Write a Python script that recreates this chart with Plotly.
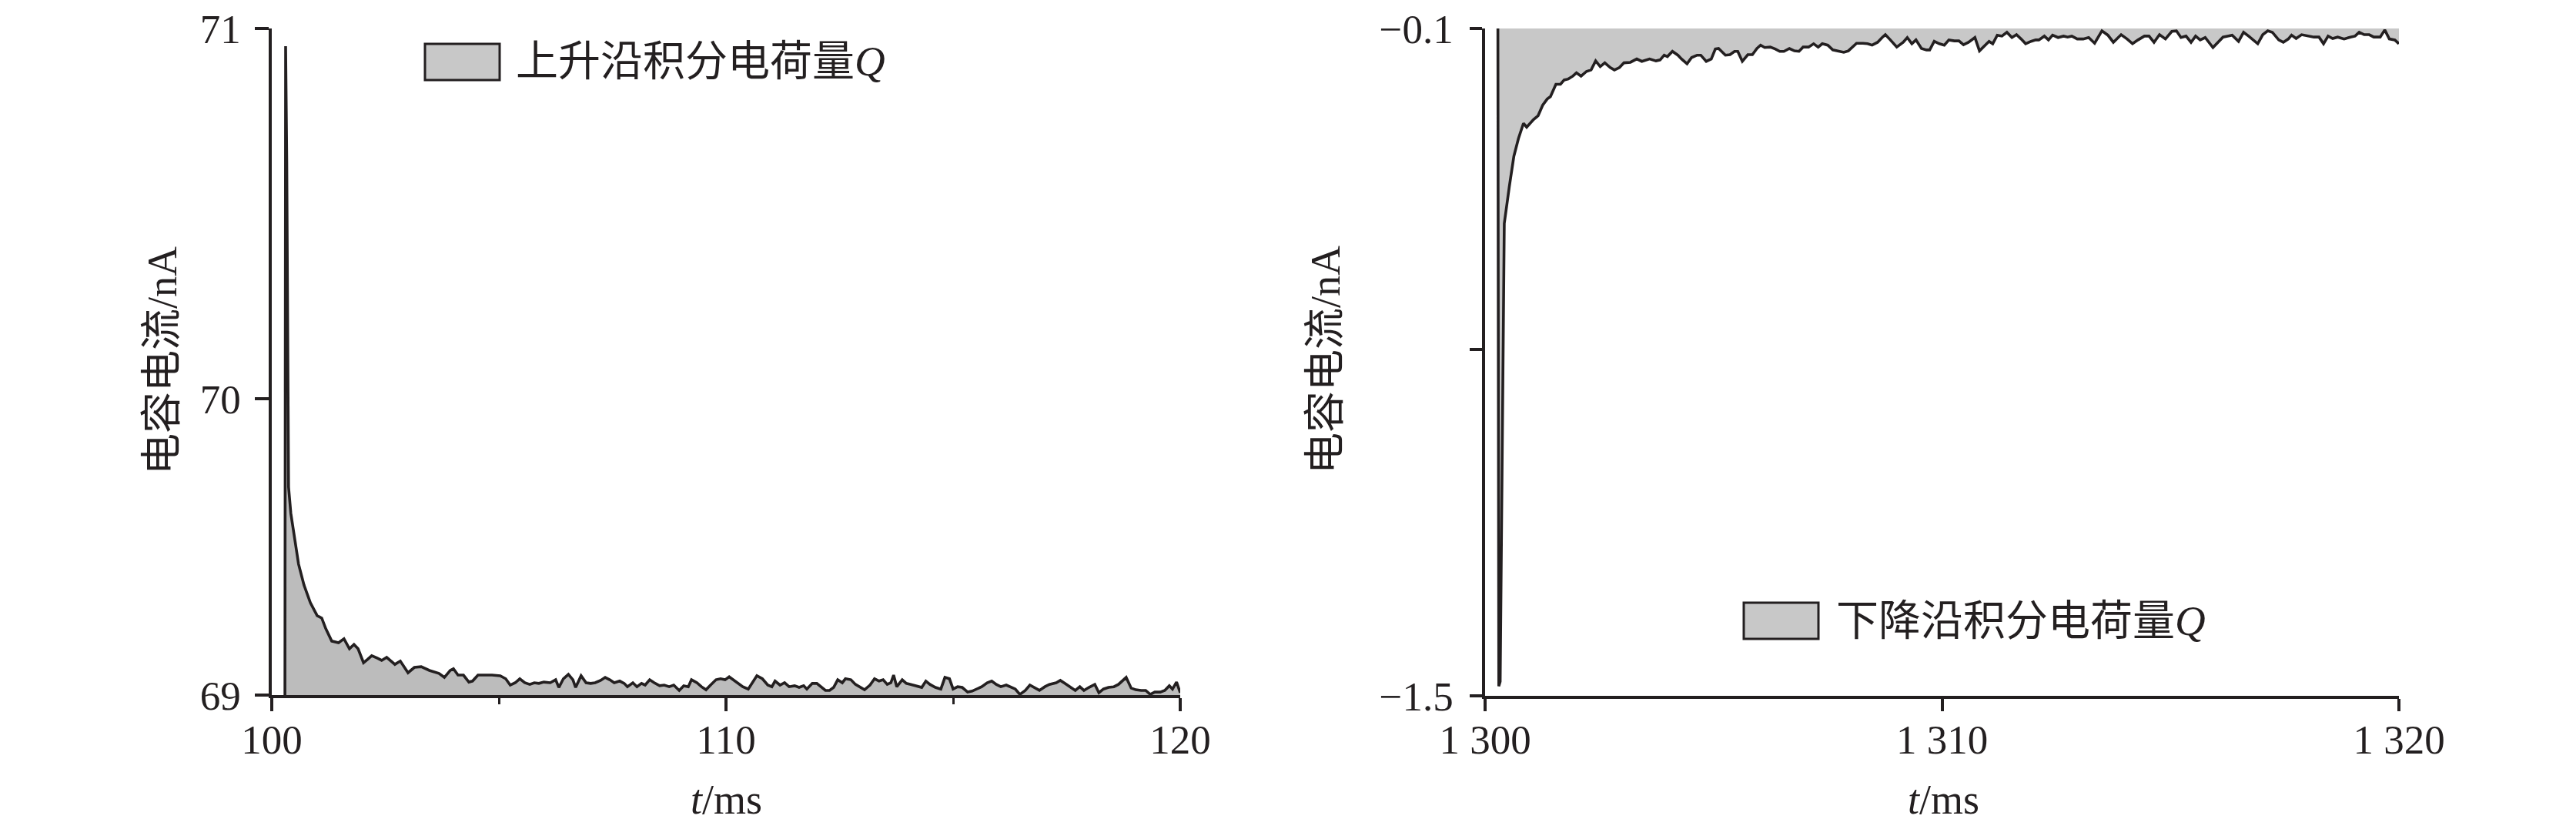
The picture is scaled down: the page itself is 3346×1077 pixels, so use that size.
import plotly.graph_objects as go

# page is 3346x1077; the default HTML body margin (8px) offsets the figure
PAGE_W, PAGE_H, OFF = 3346, 1077, 8
W, H = PAGE_W - 2 * OFF, PAGE_H - 2 * OFF

# ---------------- data: rising edge (left panel) ----------------
t_rise = [100.29, 100.305, 100.33, 100.36, 100.37, 100.42, 100.51, 100.59, 100.71, 100.85,
          101.0, 101.10, 101.19, 101.32, 101.47, 101.59, 101.71, 101.81, 101.90, 102.02,
          102.10, 102.20, 102.32, 102.42, 102.53, 102.71, 102.83, 103.0, 103.14, 103.29,
          103.47, 103.68, 103.80, 103.93, 104.0, 104.10, 104.22, 104.34, 104.42, 104.54,
          104.85, 105.03, 105.15, 105.25, 105.36, 105.46, 105.57, 105.68, 105.78, 105.88,
          105.99, 106.13, 106.25, 106.32, 106.42, 106.53, 106.63, 106.69, 106.81, 106.92,
          107.02, 107.12, 107.24, 107.34, 107.44, 107.54, 107.66, 107.76, 107.83, 107.95,
          108.04, 108.14, 108.22, 108.32, 108.42, 108.54, 108.64, 108.75, 108.85, 108.97,
          109.07, 109.17, 109.24, 109.36, 109.46, 109.56, 109.66, 109.78, 109.88, 109.98,
          110.07, 110.16, 110.25, 110.37, 110.49, 110.58, 110.68, 110.80, 110.92, 111.01,
          111.08, 111.19, 111.29, 111.39, 111.51, 111.61, 111.71, 111.78, 111.90, 112.00,
          112.10, 112.19, 112.28, 112.37, 112.46, 112.56, 112.63, 112.75, 112.85, 112.95,
          113.05, 113.17, 113.27, 113.37, 113.46, 113.55, 113.63, 113.69, 113.76, 113.88,
          113.97, 114.07, 114.19, 114.31, 114.40, 114.49, 114.61, 114.73, 114.82, 114.92,
          115.00, 115.10, 115.20, 115.32, 115.42, 115.53, 115.63, 115.75, 115.85, 115.95,
          116.05, 116.17, 116.27, 116.37, 116.47, 116.59, 116.69, 116.80, 116.90, 117.02,
          117.12, 117.27, 117.36, 117.46, 117.58, 117.69, 117.79, 117.88, 117.99, 118.12,
          118.21, 118.31, 118.42, 118.54, 118.64, 118.73, 118.81, 118.92, 119.02, 119.14,
          119.24, 119.34, 119.44, 119.56, 119.66, 119.76, 119.83, 119.92, 120.0]
i_rise = [69.0, 70.947, 70.60, 69.75, 69.624, 69.545, 69.462, 69.393, 69.330, 69.277,
          69.238, 69.231, 69.199, 69.162, 69.157, 69.169, 69.139, 69.152, 69.139, 69.097,
          69.106, 69.118, 69.111, 69.104, 69.113, 69.092, 69.102, 69.067, 69.083, 69.085,
          69.074, 69.065, 69.053, 69.074, 69.079, 69.060, 69.060, 69.039, 69.042, 69.060,
          69.060, 69.058, 69.049, 69.030, 69.037, 69.049, 69.037, 69.032, 69.037, 69.035,
          69.039, 69.037, 69.046, 69.023, 69.049, 69.062, 69.046, 69.023, 69.058, 69.037,
          69.035, 69.037, 69.044, 69.053, 69.046, 69.037, 69.042, 69.035, 69.025, 69.037,
          69.025, 69.035, 69.030, 69.046, 69.037, 69.028, 69.030, 69.025, 69.030, 69.014,
          69.028, 69.025, 69.046, 69.037, 69.025, 69.016, 69.030, 69.046, 69.049, 69.046,
          69.055, 69.046, 69.035, 69.025, 69.018, 69.037, 69.058, 69.049, 69.030, 69.025,
          69.042, 69.030, 69.037, 69.025, 69.028, 69.023, 69.028, 69.018, 69.035, 69.035,
          69.025, 69.014, 69.014, 69.023, 69.046, 69.037, 69.049, 69.046, 69.032, 69.023,
          69.016, 69.030, 69.049, 69.042, 69.046, 69.032, 69.037, 69.060, 69.025, 69.046,
          69.035, 69.032, 69.028, 69.023, 69.042, 69.032, 69.023, 69.018, 69.053, 69.049,
          69.018, 69.025, 69.023, 69.009, 69.012, 69.018, 69.025, 69.037, 69.042, 69.032,
          69.025, 69.030, 69.023, 69.018, 69.002, 69.014, 69.030, 69.021, 69.014, 69.025,
          69.032, 69.037, 69.044, 69.035, 69.023, 69.014, 69.025, 69.014, 69.023, 69.032,
          69.007, 69.018, 69.023, 69.025, 69.032, 69.042, 69.053, 69.021, 69.016, 69.014,
          69.014, 69.002, 69.009, 69.009, 69.014, 69.028, 69.018, 69.039, 69.007]

# ---------------- data: falling edge (right panel) ----------------
t_fall = [1300.28, 1300.30, 1300.33, 1300.42, 1300.53, 1300.63, 1300.73, 1300.84, 1300.91, 1301.06,
          1301.16, 1301.26, 1301.36, 1301.43, 1301.55, 1301.65, 1301.73, 1301.82, 1301.92, 1302.00,
          1302.10, 1302.22, 1302.32, 1302.42, 1302.52, 1302.62, 1302.74, 1302.83, 1302.94, 1303.04,
          1303.18, 1303.32, 1303.43, 1303.60, 1303.74, 1303.83, 1303.92, 1303.99, 1304.10, 1304.22,
          1304.30, 1304.42, 1304.52, 1304.64, 1304.72, 1304.84, 1304.95, 1305.04, 1305.11, 1305.26,
          1305.36, 1305.46, 1305.53, 1305.63, 1305.75, 1305.85, 1305.95, 1306.03, 1306.12, 1306.24,
          1306.35, 1306.45, 1306.54, 1306.66, 1306.77, 1306.87, 1306.96, 1307.08, 1307.19, 1307.29,
          1307.38, 1307.50, 1307.61, 1307.71, 1307.85, 1307.95, 1308.06, 1308.13, 1308.27, 1308.37,
          1308.47, 1308.59, 1308.69, 1308.76, 1308.87, 1309.01, 1309.15, 1309.24, 1309.34, 1309.43,
          1309.55, 1309.66, 1309.73, 1309.83, 1309.94, 1310.05, 1310.15, 1310.27, 1310.37, 1310.47,
          1310.58, 1310.72, 1310.82, 1310.92, 1311.03, 1311.11, 1311.21, 1311.31, 1311.42, 1311.53,
          1311.63, 1311.73, 1311.83, 1311.95, 1312.05, 1312.12, 1312.24, 1312.33, 1312.42, 1312.54,
          1312.66, 1312.75, 1312.84, 1312.96, 1313.09, 1313.21, 1313.34, 1313.50, 1313.63, 1313.75,
          1313.92, 1314.05, 1314.17, 1314.29, 1314.43, 1314.53, 1314.64, 1314.76, 1314.89, 1315.03,
          1315.13, 1315.23, 1315.34, 1315.45, 1315.55, 1315.65, 1315.76, 1315.93, 1316.03, 1316.15,
          1316.25, 1316.35, 1316.49, 1316.60, 1316.71, 1316.81, 1316.91, 1317.02, 1317.13, 1317.23,
          1317.37, 1317.47, 1317.58, 1317.65, 1317.75, 1317.87, 1318.00, 1318.14, 1318.25, 1318.35,
          1318.45, 1318.55, 1318.66, 1318.80, 1318.94, 1319.04, 1319.13, 1319.24, 1319.35, 1319.45,
          1319.59, 1319.69, 1319.79, 1319.91, 1320.00]
i_fall = [-0.100, -1.480, -1.470, -0.509, -0.432, -0.368, -0.331, -0.299, -0.307, -0.291,
          -0.283, -0.261, -0.248, -0.243, -0.217, -0.217, -0.208, -0.206, -0.200, -0.193,
          -0.200, -0.190, -0.187, -0.168, -0.180, -0.172, -0.182, -0.187, -0.182, -0.172,
          -0.171, -0.164, -0.169, -0.164, -0.168, -0.166, -0.156, -0.159, -0.148, -0.156,
          -0.164, -0.174, -0.161, -0.156, -0.156, -0.169, -0.164, -0.143, -0.142, -0.156,
          -0.155, -0.148, -0.148, -0.169, -0.155, -0.155, -0.142, -0.135, -0.140, -0.139,
          -0.143, -0.148, -0.148, -0.142, -0.147, -0.148, -0.139, -0.139, -0.132, -0.139,
          -0.132, -0.135, -0.145, -0.147, -0.150, -0.147, -0.137, -0.131, -0.131, -0.132,
          -0.135, -0.129, -0.119, -0.113, -0.124, -0.139, -0.129, -0.119, -0.132, -0.124,
          -0.142, -0.145, -0.145, -0.127, -0.132, -0.135, -0.124, -0.126, -0.126, -0.134,
          -0.129, -0.119, -0.147, -0.137, -0.127, -0.132, -0.114, -0.116, -0.108, -0.119,
          -0.113, -0.122, -0.132, -0.127, -0.124, -0.124, -0.116, -0.124, -0.114, -0.119,
          -0.116, -0.118, -0.116, -0.122, -0.122, -0.119, -0.131, -0.105, -0.114, -0.129,
          -0.113, -0.122, -0.132, -0.124, -0.116, -0.116, -0.129, -0.113, -0.122, -0.106,
          -0.105, -0.119, -0.116, -0.129, -0.116, -0.124, -0.119, -0.140, -0.129, -0.118,
          -0.116, -0.114, -0.127, -0.108, -0.116, -0.124, -0.132, -0.113, -0.105, -0.108,
          -0.124, -0.129, -0.122, -0.114, -0.121, -0.113, -0.116, -0.118, -0.118, -0.132,
          -0.116, -0.121, -0.118, -0.122, -0.118, -0.116, -0.108, -0.113, -0.113, -0.118,
          -0.118, -0.103, -0.122, -0.124, -0.132]

# ---------------- ticks / labels ----------------
x1_ticks = [100, 110, 120]
x1_minor = [105, 115]
y1_ticks = [69, 69.889, 71]
y1_text = ["69", "70", "71"]
x2_ticks = [1300, 1310, 1320]
x2_text = ["1 300", "1 310", "1 320"]
y2_ticks = [-1.5, -0.774, -0.1]
y2_text = ["\u22121.5", "", "\u22120.1"]
y_title = "电容电流/nA"
x_title = "<i>t</i>/ms"
legend_rise = "上升沿积分电荷量<i>Q</i>"
legend_fall = "下降沿积分电荷量<i>Q</i>"

INK = "#231f20"
FONT = "Liberation Serif, 'Noto Sans CJK SC', serif"
FS = 53


def px(x):
    return (x - OFF) / W


def py(y):
    return 1 - (y - OFF) / H


fig = go.Figure()
fig.add_trace(go.Scatter(x=t_rise, y=i_rise, mode="lines", fill="tozeroy",
                         fillcolor="#bcbcbc", line=dict(color=INK, width=3.6),
                         xaxis="x", yaxis="y", showlegend=False))
fig.add_trace(go.Scatter(x=t_fall, y=i_fall, mode="lines", fill="tozeroy",
                         fillcolor="#c8c8c8", line=dict(color=INK, width=3.6),
                         xaxis="x2", yaxis="y2", showlegend=False))

axis_common = dict(showline=True, linecolor=INK, linewidth=3.5, ticks="outside",
                   tickcolor=INK, tickwidth=3.5, showgrid=False, zeroline=False,
                   automargin=False, ticklabeloverflow="allow",
                   tickfont=dict(family=FONT, size=FS, color=INK))

fig.update_layout(
    width=W, height=H, autosize=False,
    margin=dict(l=0, r=0, t=0, b=0, pad=0),
    paper_bgcolor="white", plot_bgcolor="white",
    showlegend=False,
    xaxis=dict(domain=[px(353), px(1533)], range=[100, 120], tickvals=x1_ticks,
               ticklen=17, anchor="y", ticklabelstandoff=-8,
               minor=dict(tickvals=x1_minor, ticks="outside", ticklen=8, tickwidth=3,
                          tickcolor=INK),
               **axis_common),
    yaxis=dict(domain=[py(903), py(37)], range=[69, 71], tickvals=y1_ticks,
               ticktext=y1_text, ticklen=18, anchor="x", ticklabelstandoff=8,
               **axis_common),
    xaxis2=dict(domain=[px(1929), px(3116)], range=[1300, 1320], tickvals=x2_ticks,
                ticktext=x2_text, ticklen=16, anchor="y2", ticklabelstandoff=-8,
                **axis_common),
    yaxis2=dict(domain=[py(904), py(37)], range=[-1.5, -0.1], tickvals=y2_ticks,
                ticktext=y2_text, ticklen=16, anchor="x2", ticklabelstandoff=11,
                **axis_common),
)

annotations = [
    dict(x=px(211), y=py(469), text=y_title, textangle=-90),
    dict(x=px(1722), y=py(468), text=y_title, textangle=-90),
    dict(x=px(943), y=py(1039), text=x_title),
    dict(x=px(2524), y=py(1039), text=x_title),
]
for a in annotations:
    a.update(xref="paper", yref="paper", showarrow=False, xanchor="center", yanchor="middle",
             font=dict(family=FONT, size=FS + 1, color=INK))

legend_items = [
    (552, 649, 57, 104, 668, 80, legend_rise),
    (2265, 2362, 783, 830, 2383, 806, legend_fall),
]
shapes = []
for x0, x1, y0, y1, tx, ty, txt in legend_items:
    shapes.append(dict(type="rect", xref="paper", yref="paper", x0=px(x0), x1=px(x1),
                       y0=py(y1), y1=py(y0), fillcolor="#c8c8c8",
                       line=dict(color=INK, width=3)))
    annotations.append(dict(x=px(tx), y=py(ty), xref="paper", yref="paper", text=txt,
                            showarrow=False, xanchor="left", yanchor="middle",
                            font=dict(family=FONT, size=FS + 2, color=INK)))

fig.update_layout(annotations=annotations, shapes=shapes)
fig.write_html("out.html")
